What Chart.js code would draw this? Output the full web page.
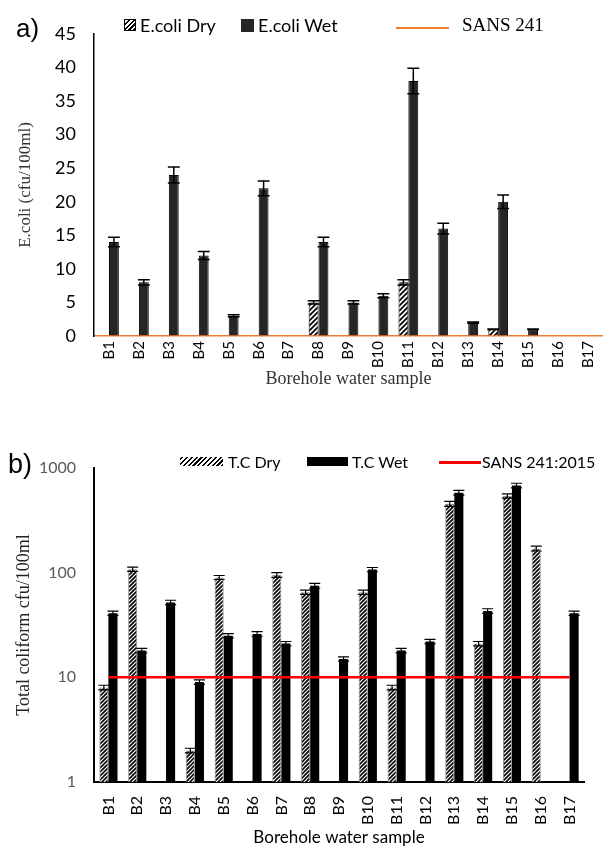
<!DOCTYPE html>
<html>
<head>
<meta charset="utf-8">
<script src="https://cdn.jsdelivr.net/npm/chart.js@4.4.1/dist/chart.umd.min.js"></script>
<style>
  body { margin:0; width:611px; height:852px; position:relative; background:#fff; overflow:hidden; font-family:Lato, sans-serif; color:#000; }
  .box { position:absolute; left:0; width:611px; }
  .t { position:absolute; white-space:nowrap; line-height:20px; }
  .sw { position:absolute; box-sizing:border-box; }
  .hatch { background:repeating-linear-gradient(-45deg, #000 0 1.6px, #fff 1.6px 3.4px); }
</style>
</head>
<body>
<div class="box" style="top:0;height:400px"><canvas id="chartA" width="611" height="400"></canvas></div>
<div class="box" style="top:420px;height:432px"><canvas id="chartB" width="611" height="432"></canvas></div>

<!-- panel labels + legends -->
<div class="t" style="left:16px;top:15px;font:26px 'Liberation Sans',sans-serif;line-height:26px">a)</div>
<div class="sw hatch" style="left:124px;top:19px;width:12px;height:12px;border:1px solid #000"></div>
<div class="t" style="left:140px;top:15px;font-size:18px">E.coli Dry</div>
<div class="sw" style="left:241px;top:19px;width:13px;height:13px;background:#262626"></div>
<div class="t" style="left:258px;top:15px;font-size:18px">E.coli Wet</div>
<div class="sw" style="left:396px;top:27px;width:53px;height:1.5px;background:#ED7D31"></div>
<div class="t" style="left:462px;top:15px;font:19px 'Liberation Serif',serif;line-height:20px">SANS 241</div>

<div class="t" style="left:8px;top:451px;font:27px 'Liberation Sans',sans-serif;line-height:27px">b)</div>
<div class="sw hatch" style="left:180px;top:457px;width:43px;height:9px"></div>
<div class="t" style="left:228px;top:452px;font-size:16px">T.C Dry</div>
<div class="sw" style="left:307px;top:457px;width:41px;height:9px;background:#000"></div>
<div class="t" style="left:352px;top:452px;font-size:16px">T.C Wet</div>
<div class="sw" style="left:439px;top:461px;width:42px;height:2.5px;background:#FF0000"></div>
<div class="t" style="left:482px;top:452px;font-size:16px">SANS 241:2015</div>

<script>
// ---- data ----
const boreholes = ['B1','B2','B3','B4','B5','B6','B7','B8','B9','B10','B11','B12','B13','B14','B15','B16','B17'];

// a) E.coli (cfu/100ml)
const ecoliDry    = [0,0,0,0,0,0,0,5,0,0,8,0,0,1,0,0,0];
const ecoliDryErr = [0,0,0,0,0,0,0,0.25,0,0,0.4,0,0,0.05,0,0,0];
const ecoliWet    = [14,8,24,12,3,22,0,14,5,6,38,16,2,20,1,0,0];
const ecoliWetErr = [0.7,0.4,1.2,0.6,0.15,1.1,0,0.7,0.25,0.3,1.9,0.8,0.1,1,0.05,0,0];
const sansEcoli   = [0,0,0,0,0,0,0,0,0,0,0,0,0,0,0,0,0];
const ecoliTicks  = [0,5,10,15,20,25,30,35,40,45];

// b) Total coliform (cfu/100ml), log axis
const tcDry    = [8,108,null,2,90,null,95,65,null,65,8,null,455,21,540,170,null];
const tcDryErr = [0.4,5,null,0.1,4,null,5,3,null,3,0.4,null,25,1,25,9,null];
const tcWet    = [41,18,52,9,25,26,21,75,15,107,18,22,580,43,680,null,41];
const tcWetErr = [2,0.9,2.5,0.45,1.2,1.3,1,4,0.7,5,0.9,1,30,2.2,35,null,2];
const sansTC   = [10,10,10,10,10,10,10,10,10,10,10,10,10,10,10,10,10];
const tcTicks  = [1,10,100,1000];

function el(id){ return document.getElementById(id); }

function hatch(p, lw) {
  const c = document.createElement('canvas');
  c.width = p; c.height = p;
  const g = c.getContext('2d');
  g.fillStyle = '#fff'; g.fillRect(0,0,p,p);
  g.strokeStyle = '#000'; g.lineWidth = lw;
  g.beginPath();
  g.moveTo(0,p); g.lineTo(p,0);
  g.moveTo(-1,1); g.lineTo(1,-1);
  g.moveTo(p-1,p+1); g.lineTo(p+1,p-1);
  g.stroke();
  return g.createPattern(c, 'repeat');
}

// error bars drawn from each bar's value +/- error through the y scale
const errorBars = {
  id: 'errorBars',
  afterDatasetsDraw(chart) {
    const ctx = chart.ctx, ys = chart.scales.y;
    chart.data.datasets.forEach((ds, i) => {
      if (!ds.errors) return;
      chart.getDatasetMeta(i).data.forEach((bar, j) => {
        const v = ds.data[j], e = ds.errors[j];
        if (v == null || !e) return;
        const top = ys.getPixelForValue(v + e), bot = ys.getPixelForValue(v - e);
        const half = bar.width / 2 + 1;
        ctx.save();
        ctx.strokeStyle = '#000'; ctx.lineWidth = ds.errWidth || 1.5;
        ctx.beginPath();
        ctx.moveTo(bar.x, top); ctx.lineTo(bar.x, bot);
        ctx.moveTo(bar.x - half, top); ctx.lineTo(bar.x + half, top);
        ctx.moveTo(bar.x - half, bot); ctx.lineTo(bar.x + half, bot);
        ctx.stroke();
        ctx.restore();
      });
    });
  }
};

const xTicks = (size, pad) => ({ color:'#000', minRotation:90, maxRotation:90, autoSkip:false, padding:pad, font:{family:'Lato', size} });

// ---- a) ----
new Chart(el('chartA'), {
  type: 'bar',
  data: {
    labels: boreholes,
    datasets: [
      { label:'E.coli Dry', data: ecoliDry, errors: ecoliDryErr, backgroundColor: hatch(5, 1.8), borderColor:'#000', borderWidth:1, order:1 },
      { label:'E.coli Wet', data: ecoliWet, errors: ecoliWetErr, backgroundColor:'#262626', borderColor:'#000', borderWidth:1, order:1 },
      { type:'line', label:'SANS 241', data: sansEcoli, borderColor:'#ED7D31', borderWidth:1.5, pointRadius:0, order:0 }
    ]
  },
  options: {
    responsive:false, animation:false,
    layout:{ padding:{ top:34, right:0, left:0, bottom:0 } },
    datasets:{ bar:{ categoryPercentage:0.66, barPercentage:1 } },
    plugins:{ legend:{ display:false }, tooltip:{ enabled:false } },
    scales:{
      x:{
        grid:{ display:false, drawTicks:false },
        border:{ color:'#ED7D31', width:1.5 },
        ticks: xTicks(15, 5),
        title:{ display:true, text:'Borehole water sample', color:'#333', font:{ family:'Liberation Serif', size:18 }, padding:{ top:0, bottom:10 } },
        afterFit: s => { s.height = 64; }
      },
      y:{
        min:0, max:45,
        afterBuildTicks: s => { s.ticks = ecoliTicks.map(v => ({ value:v })); },
        grid:{ display:false, drawTicks:false },
        border:{ color:'#000', width:1.5 },
        ticks:{ color:'#000', padding:18, font:{ family:'Lato', size:18 } },
        title:{ display:true, text:'E.coli (cfu/100ml)', color:'#333', font:{ family:'Liberation Serif', size:17 }, padding:{ top:15, bottom:0 } },
        afterFit: s => { s.width = 94; }
      }
    }
  },
  plugins:[errorBars]
});

// ---- b) ----
new Chart(el('chartB'), {
  type: 'bar',
  data: {
    labels: boreholes,
    datasets: [
      { label:'T.C Dry', data: tcDry, errors: tcDryErr, errWidth:1.2, backgroundColor: hatch(4, 1.6), borderColor:'#8c8c8c', borderWidth:1, order:1 },
      { label:'T.C Wet', data: tcWet, errors: tcWetErr, errWidth:1.2, backgroundColor:'#000', borderColor:'#000', borderWidth:0, order:1 },
      { type:'line', label:'SANS 241:2015', data: sansTC, borderColor:'#FF0000', borderWidth:2.5, pointRadius:0, order:0 }
    ]
  },
  options: {
    responsive:false, animation:false,
    layout:{ padding:{ top:48, right:27, left:0, bottom:0 } },
    datasets:{ bar:{ categoryPercentage:0.63, barPercentage:1 } },
    plugins:{ legend:{ display:false }, tooltip:{ enabled:false } },
    scales:{
      x:{
        grid:{ display:false, drawTicks:false },
        border:{ color:'#000', width:2 },
        ticks: xTicks(16, 14),
        title:{ display:true, text:'Borehole water sample', color:'#000', font:{ family:'Lato', size:17 }, padding:{ top:0, bottom:4 } },
        afterFit: s => { s.height = 70; }
      },
      y:{
        type:'logarithmic', min:1, max:1000,
        afterBuildTicks: s => { s.ticks = tcTicks.map(v => ({ value:v })); },
        grid:{ display:false, drawTicks:false },
        border:{ color:'#000', width:2 },
        ticks:{ color:'#595959', padding:18, font:{ family:'Lato', size:16 }, callback: v => String(v) },
        title:{ display:true, text:'Total coliform cfu/100ml', color:'#222', font:{ family:'Liberation Serif', size:18 }, padding:{ top:13, bottom:0 } },
        afterFit: s => { s.width = 94; }
      }
    }
  },
  plugins:[errorBars]
});
</script>
</body>
</html>
